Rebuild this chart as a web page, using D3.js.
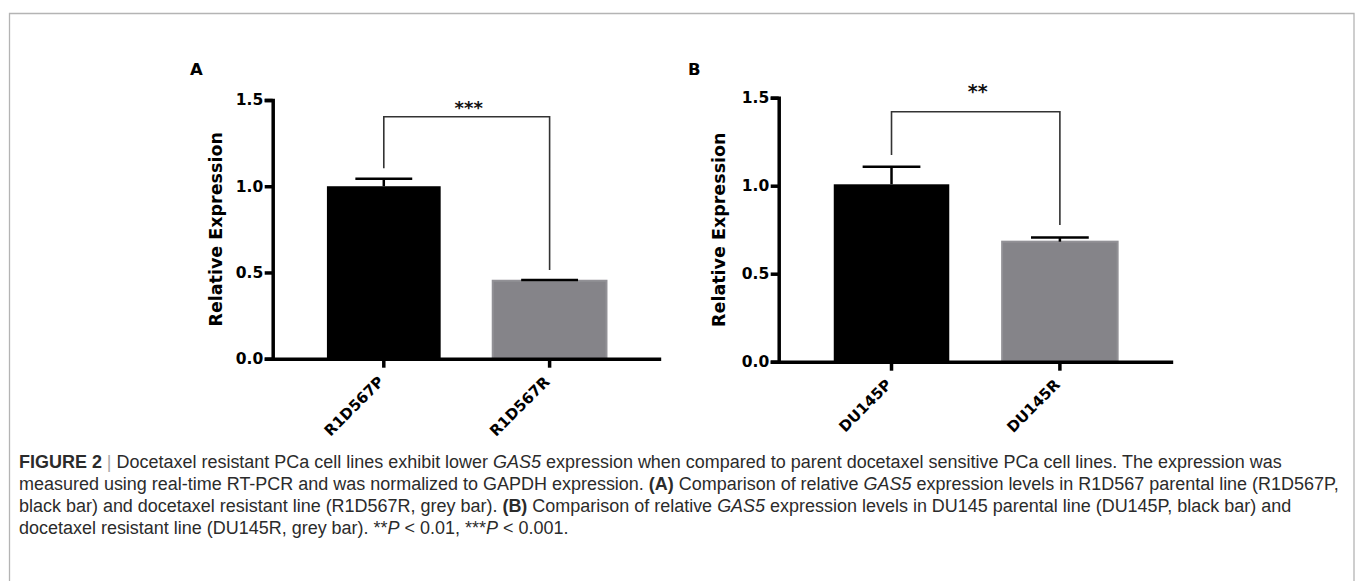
<!DOCTYPE html>
<html>
<head>
<meta charset="utf-8">
<script src="https://cdn.jsdelivr.net/npm/d3@7"></script>
<style>
  html, body { margin: 0; padding: 0; background: #fff; }
  svg { display: block; }
</style>
</head>
<body>
<svg id="chart" width="1355" height="581"></svg>
<script>
// ---------------- data ----------------
const panelLetters = ["A", "B"];
const categoriesA = ["R1D567P", "R1D567R"];
const valuesA = [1.0, 0.452];
const errorsA = [0.043, 0.005];
const categoriesB = ["DU145P", "DU145R"];
const valuesB = [1.008, 0.682];
const errorsB = [0.100, 0.023];
const barColors = ["#000000", "#858489"];
const yTickValues = [0.0, 0.5, 1.0, 1.5];
const yTickLabels = ["0.0", "0.5", "1.0", "1.5"];
const yAxisTitle = "Relative Expression";
const sigLabels = ["***", "**"];
const sigLevels = [1.403, 1.420];
const sigLeftEnds = [1.104, 1.174];
const sigRightEnds = [0.514, 0.777];

// caption: each line is a list of [text, style]
const captionLines = [
  [["FIGURE 2", "b"], [" | ", "bar"], ["Docetaxel resistant PCa cell lines exhibit lower ", ""], ["GAS5", "i"], [" expression when compared to parent docetaxel sensitive PCa cell lines. The expression was", ""]],
  [["measured using real-time RT-PCR and was normalized to GAPDH expression. ", ""], ["(A)", "b"], [" Comparison of relative ", ""], ["GAS5", "i"], [" expression levels in R1D567 parental line (R1D567P,", ""]],
  [["black bar) and docetaxel resistant line (R1D567R, grey bar). ", ""], ["(B)", "b"], [" Comparison of relative ", ""], ["GAS5", "i"], [" expression levels in DU145 parental line (DU145P, black bar) and", ""]],
  [["docetaxel resistant line (DU145R, grey bar). **", ""], ["P", "i"], [" < 0.01, ***", ""], ["P", "i"], [" < 0.001.", ""]]
];

// ---------------- layout ----------------
const layouts = [
  { x0: 272.7, x1: 660.7, yTop: 100.0, yBot: 358.7, titleX: 222, letterX: 190, letterY: 75, starDy: -3, starSize: 18 },
  { x0: 778.7, x1: 1172.7, yTop: 97.7, yBot: 361.7, titleX: 724.5, letterX: 688, letterY: 75, starDy: -14, starSize: 19 }
];
const panelData = [
  { cats: categoriesA, vals: valuesA, errs: errorsA },
  { cats: categoriesB, vals: valuesB, errs: errorsB }
];

const svg = d3.select("#chart");
const chartFont = "'DejaVu Sans', sans-serif";

// frame
svg.append("path")
  .attr("d", "M9.5,581 V13.5 H1354 V581")
  .attr("fill", "none").attr("stroke", "#b4b4b4").attr("stroke-width", 1.3);

panelData.forEach((pd, p) => {
  const L = layouts[p];
  const g = svg.append("g");

  const x = d3.scaleBand().domain(pd.cats).range([L.x0, L.x1])
    .paddingInner(0.314).paddingOuter(0.327);
  const y = d3.scaleLinear().domain([0, 1.5]).range([L.yBot, L.yTop]);

  // bars
  g.selectAll("rect.bar").data(pd.cats).enter().append("rect")
    .attr("class", "bar")
    .attr("x", d => x(d))
    .attr("width", x.bandwidth())
    .attr("y", (d, i) => y(pd.vals[i]))
    .attr("height", (d, i) => y(0) - y(pd.vals[i]))
    .attr("fill", (d, i) => barColors[i])
    .attr("stroke", (d, i) => i === 0 ? "#000" : "#929196")
    .attr("stroke-width", (d, i) => i === 0 ? 0 : 2);

  // error bars
  const eb = g.selectAll("g.err").data(pd.cats).enter().append("g").attr("class", "err");
  eb.append("line")
    .attr("x1", d => x(d) + x.bandwidth() / 2).attr("x2", d => x(d) + x.bandwidth() / 2)
    .attr("y1", (d, i) => y(pd.vals[i])).attr("y2", (d, i) => y(pd.vals[i] + pd.errs[i]))
    .attr("stroke", "#000").attr("stroke-width", 2.5);
  eb.append("line")
    .attr("x1", d => x(d) + x.bandwidth() / 4).attr("x2", d => x(d) + x.bandwidth() * 3 / 4)
    .attr("y1", (d, i) => y(pd.vals[i] + pd.errs[i])).attr("y2", (d, i) => y(pd.vals[i] + pd.errs[i]))
    .attr("stroke", "#000").attr("stroke-width", 2.5);

  // y axis
  const yAxis = d3.axisLeft(y).tickValues(yTickValues)
    .tickFormat((d, i) => yTickLabels[i]).tickSize(8).tickSizeOuter(8).tickPadding(1.5);
  const ya = g.append("g").attr("transform", `translate(${L.x0},0)`).call(yAxis);
  ya.select(".domain").attr("stroke", "#000").attr("stroke-width", 3.5);
  ya.selectAll(".tick line").attr("stroke", "#000").attr("stroke-width", 3.5);
  ya.selectAll(".tick text").attr("font-family", chartFont).attr("font-weight", "bold")
    .attr("font-size", 15.5).attr("fill", "#000");

  // x axis
  const xAxis = d3.axisBottom(x).tickSize(9).tickSizeOuter(0).tickFormat("");
  const xa = g.append("g").attr("transform", `translate(0,${L.yBot})`).call(xAxis);
  xa.select(".domain").attr("stroke", "#000").attr("stroke-width", 3.5);
  xa.selectAll(".tick line").attr("stroke", "#000").attr("stroke-width", 3.5);
  xa.selectAll(".tick").append("text")
    .attr("transform", "translate(1,24) rotate(-45)")
    .attr("text-anchor", "end")
    .attr("font-family", chartFont).attr("font-weight", "bold").attr("font-size", 15)
    .attr("fill", "#000")
    .text(d => d);

  // y title
  g.append("text")
    .attr("transform", `translate(${L.titleX},${(L.yTop + L.yBot) / 2}) rotate(-90)`)
    .attr("text-anchor", "middle")
    .attr("font-family", chartFont).attr("font-weight", "bold").attr("font-size", 17.5)
    .attr("fill", "#000")
    .text(yAxisTitle);

  // panel letter
  g.append("text")
    .attr("x", L.letterX).attr("y", L.letterY)
    .attr("font-family", chartFont).attr("font-weight", "bold").attr("font-size", 16.5)
    .attr("fill", "#000").text(panelLetters[p]);

  // significance bracket
  const xl = x(pd.cats[0]) + x.bandwidth() / 2;
  const xr = x(pd.cats[1]) + x.bandwidth() / 2;
  g.append("path")
    .attr("d", `M${xl},${y(sigLeftEnds[p])} V${y(sigLevels[p])} H${xr} V${y(sigRightEnds[p])}`)
    .attr("fill", "none").attr("stroke", "#333").attr("stroke-width", 1.6);
  g.append("text")
    .attr("x", (xl + xr) / 2 + 2).attr("y", y(sigLevels[p]) + L.starDy)
    .attr("text-anchor", "middle")
    .attr("font-family", chartFont).attr("font-weight", "bold").attr("font-size", L.starSize)
    .attr("fill", "#111").text(sigLabels[p]);
});

// caption
const capFont = "'Liberation Sans', Arial, sans-serif";
const capG = svg.append("g");
const baseSize = 15;
const capTexts = captionLines.map((line, li) => {
  const t = capG.append("text")
    .attr("x", 19).attr("y", 468 + li * 22)
    .attr("font-family", capFont).attr("font-size", baseSize)
    .attr("fill", "#2b2b2b");
  line.forEach(([s, st]) => {
    const ts = t.append("tspan").text(s);
    if (st === "b") ts.attr("font-weight", "bold");
    if (st === "i") ts.attr("font-style", "italic");
    if (st === "bar") ts.attr("fill", "#aaa");
  });
  return t;
});
// fit caption so that the longest (second) line ends near the frame edge
const targetW = 1339 - 19;
const w1 = capTexts[1].node().getComputedTextLength();
const fs = baseSize * targetW / w1;
capTexts.forEach(t => t.attr("font-size", fs));
</script>
</body>
</html>
